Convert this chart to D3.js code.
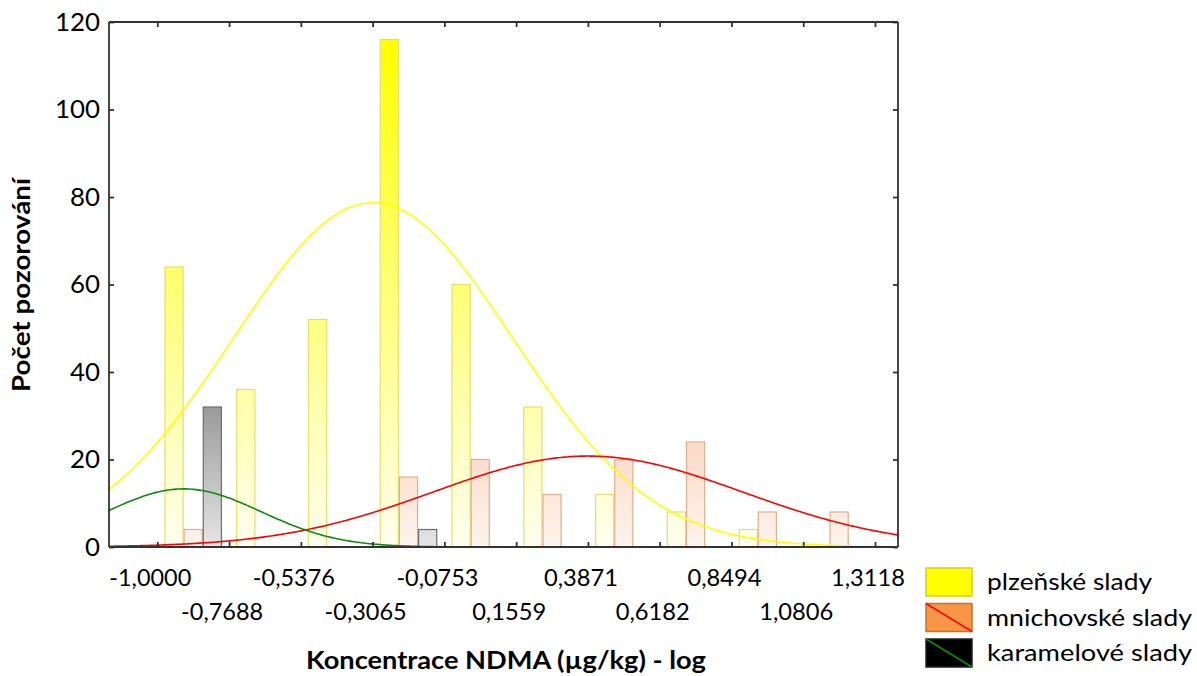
<!DOCTYPE html>
<html>
<head>
<meta charset="utf-8">
<script src="https://cdn.jsdelivr.net/npm/d3@7"></script>
<style>
  html, body { margin: 0; padding: 0; background: #fff; }
  svg { display: block; font-family: Lato, "Open Sans", sans-serif; }
</style>
</head>
<body>
<svg id="chart" width="1197" height="676"></svg>
<script>
// ---- data ----
const binEdges = [-1.0000, -0.7688, -0.5376, -0.3065, -0.0753, 0.1559, 0.3871, 0.6182, 0.8494, 1.0806, 1.3118];
const edgeLabels = ["-1,0000", "-0,7688", "-0,5376", "-0,3065", "-0,0753", "0,1559", "0,3871", "0,6182", "0,8494", "1,0806", "1,3118"];
const seriesNames = ["plzeňské slady", "mnichovské slady", "karamelové slady"];
const plzenske    = [64, 36, 52, 116, 60, 32, 12, 8, 4, 0];
const mnichovske  = [4, 0, 0, 16, 20, 12, 20, 24, 8, 8];
const karamelove  = [32, 0, 0, 4, 0, 0, 0, 0, 0, 0];
// fitted normal curves: mean, standard deviation (log units)
const fitMean = [-0.305, 0.387, -0.915];
const fitSd   = [0.450, 0.497, 0.250];
const yTicks = [0, 20, 40, 60, 80, 100, 120];

const seriesValues = [plzenske, mnichovske, karamelove];

// ---- layout ----
const svg = d3.select("#chart");
const L = 109, R = 898, T = 22, B = 547;
const xDomain = [-1.1556, 1.3859];
const x = d3.scaleLinear().domain(xDomain).range([L, R]);
const y = d3.scaleLinear().domain([0, 120]).range([B, T]);

// gradients (user space, along y)
const defs = svg.append("defs");
function grad(id, v0, c0, v1, c1) {
  const g = defs.append("linearGradient").attr("id", id)
    .attr("gradientUnits", "userSpaceOnUse")
    .attr("x1", 0).attr("x2", 0).attr("y1", y(v0)).attr("y2", y(v1));
  g.append("stop").attr("offset", 0).attr("stop-color", c0);
  g.append("stop").attr("offset", 1).attr("stop-color", c1);
}
grad("gY", 0, "#fffff0", 116, "#ffff00");
grad("gO", 0, "#fef4ee", 24, "#fbdac6");
grad("gK", 0, "#e6e6e6", 32, "#9a9a9a");
const fills = ["url(#gY)", "url(#gO)", "url(#gK)"];
const strokes = ["#e6de6e", "#e3ae8c", "#6e6e6e"];

// bars
const bins = d3.range(binEdges.length - 1);
bins.forEach(i => {
  const x0 = x(binEdges[i]), x1 = x(binEdges[i + 1]);
  const pad = (x1 - x0) * 0.1;
  const inner = d3.scaleBand().domain(d3.range(3)).range([x0 + pad, x1 - pad]).padding(0);
  seriesValues.forEach((vals, s) => {
    const v = vals[i];
    if (v <= 0) return;
    svg.append("rect")
      .attr("x", inner(s) + 0.5)
      .attr("y", y(v))
      .attr("width", inner.bandwidth() - 1)
      .attr("height", y(0) - y(v))
      .attr("fill", fills[s])
      .attr("stroke", strokes[s])
      .attr("stroke-width", 1.2);
  });
});

// fitted curves
const binW = binEdges[1] - binEdges[0];
const curveColors = ["#ffff00", "#ff0000", "#108a10"];
const xs = d3.range(xDomain[0], xDomain[1] + 0.001, (xDomain[1] - xDomain[0]) / 400);
const line = d3.line().x(d => x(d[0])).y(d => y(d[1])).curve(d3.curveLinear);
seriesValues.forEach((vals, s) => {
  const n = d3.sum(vals);
  const m = fitMean[s], sd = fitSd[s];
  const pts = xs.map(v => [v, n * binW / (sd * Math.sqrt(2 * Math.PI)) * Math.exp(-((v - m) ** 2) / (2 * sd * sd))]);
  svg.append("path").datum(pts)
    .attr("d", line)
    .attr("fill", "none")
    .attr("stroke", curveColors[s])
    .attr("stroke-width", 1.6);
});

// frame + inward ticks
const axisColor = "#333";
const gB = svg.append("g").attr("transform", `translate(0,${B})`)
  .call(d3.axisBottom(x).tickValues(binEdges).tickSize(-5).tickFormat(""));
const gT = svg.append("g").attr("transform", `translate(0,${T})`)
  .call(d3.axisTop(x).tickValues(binEdges).tickSize(-5).tickFormat(""));
const gL = svg.append("g").attr("transform", `translate(${L},0)`)
  .call(d3.axisLeft(y).tickValues(yTicks).tickSize(-5).tickPadding(9).tickFormat(d3.format("d")));
const gR = svg.append("g").attr("transform", `translate(${R},0)`)
  .call(d3.axisRight(y).tickValues(yTicks).tickSize(-5).tickFormat(""));
[gB, gT, gL, gR].forEach(g => {
  g.select(".domain").attr("stroke", axisColor).attr("stroke-width", 1.8);
  g.selectAll(".tick line").attr("stroke", axisColor).attr("stroke-width", 1.8);
});
[gB, gT].forEach(g => g.select(".domain").attr("d", `M${L},0H${R}`));
[gL, gR].forEach(g => g.select(".domain").attr("d", `M0,${B}V${T}`));
gL.selectAll(".tick text")
  .attr("font-size", 25).attr("fill", "#000")
  .attr("font-family", "Lato, sans-serif")
  .attr("textLength", d => String(d).length * 15)
  .attr("lengthAdjust", "spacingAndGlyphs");

// staggered x tick labels
svg.append("g").selectAll("text").data(binEdges).join("text")
  .attr("x", d => x(d) - 7)
  .attr("y", (d, i) => i % 2 === 0 ? 578 : 612)
  .attr("dy", "0.35em")
  .attr("text-anchor", "middle")
  .attr("font-size", 24)
  .attr("textLength", (d, i) => edgeLabels[i].startsWith("-") ? 82 : 74)
  .attr("lengthAdjust", "spacingAndGlyphs")
  .text((d, i) => edgeLabels[i]);

// axis titles
svg.append("text")
  .attr("transform", "translate(22,285) rotate(-90)")
  .attr("text-anchor", "middle").attr("dy", "0.35em")
  .attr("font-weight", "bold").attr("font-size", 24)
  .attr("textLength", 214).attr("lengthAdjust", "spacingAndGlyphs")
  .text("Počet pozorování");
svg.append("text")
  .attr("x", 506).attr("y", 661).attr("dy", "0.35em")
  .attr("text-anchor", "middle")
  .attr("font-weight", "bold").attr("font-size", 24)
  .attr("textLength", 400).attr("lengthAdjust", "spacingAndGlyphs")
  .text("Koncentrace NDMA (µg/kg) - log");

// legend
const legFill = ["#ffff00", "#f79646", "#000000"];
const legStroke = ["#d6cc20", "#c8702a", "#222"];
const legLine = [null, "#ff0000", "#108a10"];
const legWidths = [165, 205, 205];
const leg = svg.append("g");
seriesNames.forEach((name, i) => {
  const ly = 568 + i * 35.5;
  leg.append("rect").attr("x", 926).attr("y", ly).attr("width", 46).attr("height", 28)
    .attr("fill", legFill[i]).attr("stroke", legStroke[i]).attr("stroke-width", 1.5);
  if (legLine[i]) {
    leg.append("line").attr("x1", 926).attr("y1", ly).attr("x2", 972).attr("y2", ly + 28)
      .attr("stroke", legLine[i]).attr("stroke-width", 1.5);
  }
  leg.append("text").attr("x", 987).attr("y", ly + 14).attr("dy", "0.35em")
    .attr("font-size", 24)
    .attr("textLength", legWidths[i]).attr("lengthAdjust", "spacingAndGlyphs")
    .text(name);
});
</script>
</body>
</html>
